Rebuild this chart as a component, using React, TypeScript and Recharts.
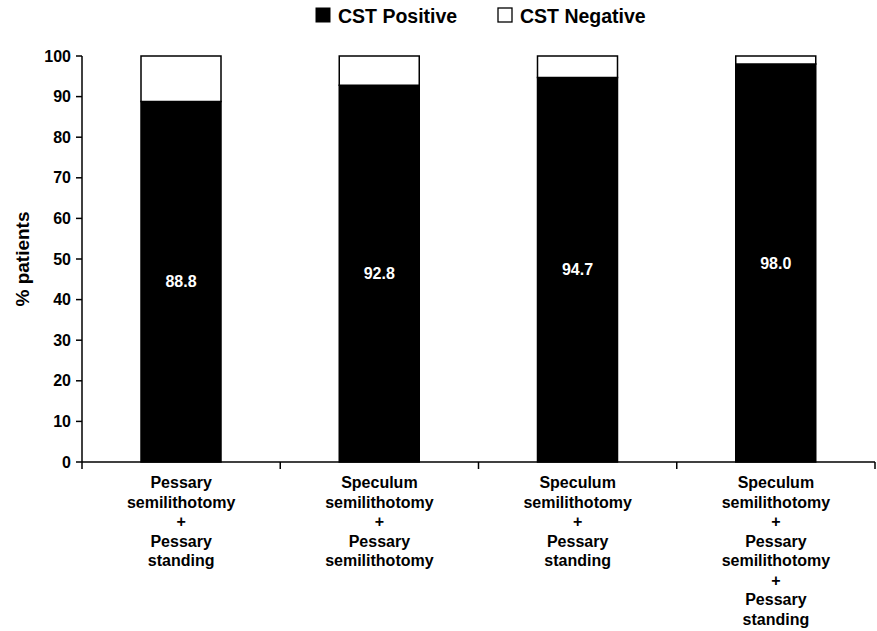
import { BarChart, Bar, XAxis, YAxis, LabelList } from "recharts";

const categories = [
  ["Pessary", "semilithotomy", "+", "Pessary", "standing"],
  ["Speculum", "semilithotomy", "+", "Pessary", "semilithotomy"],
  ["Speculum", "semilithotomy", "+", "Pessary", "standing"],
  ["Speculum", "semilithotomy", "+", "Pessary", "semilithotomy", "+", "Pessary", "standing"],
];
const positive = [88.8, 92.8, 94.7, 98.0];
const negative = [11.2, 7.2, 5.3, 2.0];
const yTicks = [0, 10, 20, 30, 40, 50, 60, 70, 80, 90, 100];

const data = categories.map((c, i) => ({
  name: String(i),
  lines: c,
  pos: positive[i],
  neg: negative[i],
}));

const W = 877;
const H = 631;
const M = { top: 56, right: 2, left: 0, bottom: 0 };
const Y_W = 82;
const X_H = 169;
const bandW = (W - M.left - M.right - Y_W) / categories.length;

const FONT = "'Liberation Sans', Arial, sans-serif";

const XTick = (props: any) => {
  const { x, y, payload, index } = props;
  const lines: string[] = categories[Number(payload.value)];
  return (
    <g>
      {index === 0 && (
        <line x1={x - bandW / 2} x2={x - bandW / 2} y1={y - 8} y2={y - 1} stroke="#000" strokeWidth={1.5} />
      )}
      <line x1={x + bandW / 2} x2={x + bandW / 2} y1={y - 8} y2={y - 1} stroke="#000" strokeWidth={1.5} />
      <text x={x} y={y} textAnchor="middle" fontFamily={FONT} fontWeight="bold" fontSize={16} fill="#000">
        {lines.map((l, i) => (
          <tspan key={i} x={x} dy={i === 0 ? 18 : 19.5}>
            {l}
          </tspan>
        ))}
      </text>
    </g>
  );
};

const Legend = () => (
  <svg width={W} height={40} style={{ position: "absolute", left: 0, top: 0 }}>
    <rect x={316} y={8} width={14} height={14} fill="#000" stroke="#000" />
    <text x={338} y={22.5} fontFamily={FONT} fontWeight="bold" fontSize={19.5} fill="#000">
      CST Positive
    </text>
    <rect x={498} y={8} width={14} height={14} fill="#fff" stroke="#000" strokeWidth={1.3} />
    <text x={520} y={22.5} fontFamily={FONT} fontWeight="bold" fontSize={19.5} fill="#000">
      CST Negative
    </text>
  </svg>
);

export default function App() {
  return (
    <div style={{ position: "absolute", left: 0, top: 0, width: W, height: H, background: "#fff" }}>
      <BarChart width={W} height={H} data={data} margin={M} barSize={80}>
        <XAxis
          dataKey="name"
          height={X_H}
          tick={XTick}
          tickLine={false}
          axisLine={{ stroke: "#000", strokeWidth: 1.5 }}
          interval={0}
        />
        <YAxis
          width={Y_W}
          domain={[0, 100]}
          ticks={yTicks}
          interval={0}
          axisLine={{ stroke: "#000", strokeWidth: 1.5 }}
          tickLine={{ stroke: "#000", strokeWidth: 1.5 }}
          tickSize={6}
          tickMargin={5}
          tick={{ fill: "#000", fontFamily: FONT, fontWeight: "bold", fontSize: 16 }}
          label={{
            value: "% patients",
            angle: -90,
            position: "insideLeft",
            dx: 17,
            dy: 0,
            style: { fill: "#000", fontFamily: FONT, fontWeight: "bold", fontSize: 19, textAnchor: "middle" },
          }}
        />
        <Bar dataKey="pos" stackId="a" fill="#000" stroke="#000" strokeWidth={1.5} isAnimationActive={false}>
          <LabelList
            dataKey="pos"
            position="center"
            formatter={(v: any) => Number(v).toFixed(1)}
            style={{ fill: "#fff", fontFamily: FONT, fontWeight: "bold", fontSize: 16 }}
          />
        </Bar>
        <Bar dataKey="neg" stackId="a" fill="#fff" stroke="#000" strokeWidth={1.5} isAnimationActive={false} />
      </BarChart>
      <Legend />
    </div>
  );
}
